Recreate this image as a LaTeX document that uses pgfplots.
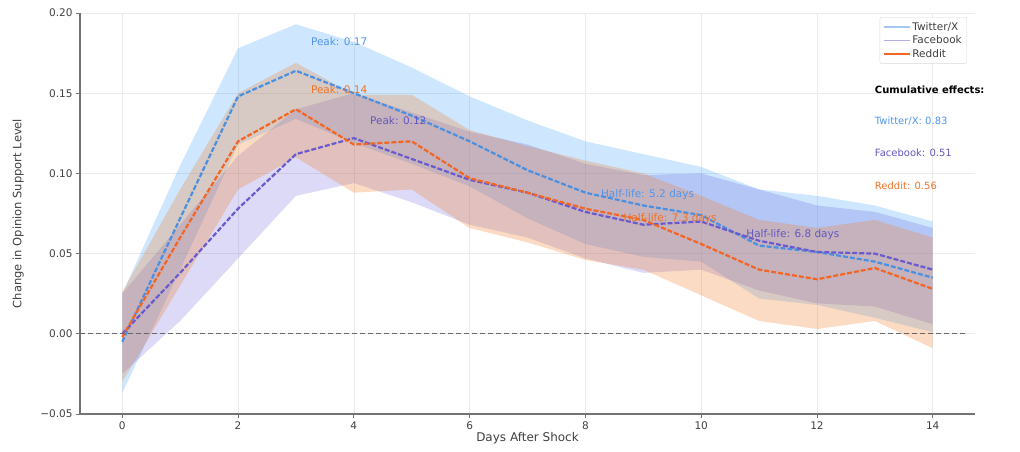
\documentclass[border=0pt]{standalone}
\usepackage{fontspec}
\setmainfont{DejaVu Sans}
\usepackage{pgfplots}
\usepackage{pgfplotstable}
\pgfplotsset{compat=1.18}
\usepgfplotslibrary{fillbetween}
\definecolor{tw}{RGB}{74,144,226}
\definecolor{fb}{RGB}{106,90,205}
\definecolor{rd}{RGB}{242,101,34}
\definecolor{twf}{RGB}{30,144,255}
\definecolor{fbf}{RGB}{80,70,210}
\definecolor{rdf}{RGB}{240,125,40}
\definecolor{twt}{RGB}{80,150,235}
\definecolor{fbt}{RGB}{100,88,190}
\definecolor{rdt}{RGB}{240,115,40}
\pgfplotstableread{
day tm tu tl fm fu fl rm ru rl
0 -0.005 0.025 -0.037 0.000 0.025 -0.025 -0.002 0.026 -0.030
1 0.072 0.105 0.040 0.038 0.068 0.008 0.060 0.090 0.030
2 0.148 0.178 0.118 0.078 0.111 0.047 0.120 0.150 0.090
3 0.164 0.193 0.134 0.112 0.140 0.086 0.140 0.169 0.110
4 0.150 0.182 0.119 0.122 0.150 0.094 0.118 0.149 0.088
5 0.136 0.166 0.106 0.109 0.138 0.082 0.120 0.149 0.090
6 0.120 0.148 0.092 0.096 0.126 0.068 0.097 0.127 0.066
7 0.102 0.133 0.072 0.088 0.118 0.060 0.088 0.117 0.057
8 0.088 0.120 0.056 0.076 0.106 0.047 0.078 0.108 0.046
9 0.080 0.112 0.048 0.068 0.099 0.038 0.071 0.100 0.040
10 0.074 0.104 0.045 0.070 0.100 0.040 0.056 0.086 0.024
11 0.055 0.090 0.022 0.058 0.090 0.027 0.040 0.071 0.008
12 0.051 0.086 0.018 0.051 0.080 0.019 0.034 0.066 0.003
13 0.045 0.080 0.010 0.050 0.076 0.017 0.041 0.071 0.008
14 0.035 0.070 0.001 0.040 0.066 0.006 0.028 0.060 -0.009
}\data
\begin{document}
\begin{tikzpicture}
\begin{axis}[
  at={(0pt,0pt)}, anchor=south west,
  scale only axis, width=895pt, height=401pt,
  xmin=-0.73, xmax=14.73, ymin=-0.05, ymax=0.20,
  clip=false,
  axis x line*=bottom, axis y line*=left,
  axis line style={draw=black!55, line width=1.3pt, -},
  xtick={0,2,4,6,8,10,12,14},
  xticklabels={0,2,4,6,8,10,12,14},
  ytick={-0.05,0,0.05,0.1,0.15,0.2},
  yticklabels={−0.05,0.00,0.05,0.10,0.15,0.20},
  tick align=outside, major tick length=4pt,
  tick style={draw=black!55, line width=0.8pt},
  ticklabel style={font=\fontsize{10.5}{12}\selectfont, text=black!75},
  grid=major, grid style={draw=black!8, line width=0.6pt},
  xlabel={Days After Shock}, ylabel={Change in Opinion Support Level},
  xlabel style={at={(axis description cs:0.5,-0.06)}, anchor=center, font=\fontsize{12}{14}\selectfont, text=black!75},
  ylabel style={at={(axis description cs:-0.069,0.5)}, anchor=center, font=\fontsize{11.5}{14}\selectfont, text=black!75},
  legend style={at={(rel axis cs:0.991,0.99)}, anchor=north east, draw=black!15, fill=white, rounded corners=2pt, font=\fontsize{10.5}{12.5}\selectfont, text=black!75, inner sep=3pt},
  legend cell align=left,
  legend image code/.code={\draw[#1] (0pt,0pt) -- (26pt,0pt);},
]
% Twitter/X
\addplot[name path=tu, draw=none, forget plot] table[x=day,y=tu]{\data};
\addplot[name path=tl, draw=none, forget plot] table[x=day,y=tl]{\data};
\addplot[fill=twf, fill opacity=0.22, draw=none, forget plot] fill between[of=tu and tl];
\addplot[tw, line width=2.2pt, dash pattern=on 5pt off 2pt, forget plot] table[x=day,y=tm]{\data};
% Facebook
\addplot[name path=fu, draw=none, forget plot] table[x=day,y=fu]{\data};
\addplot[name path=fl, draw=none, forget plot] table[x=day,y=fl]{\data};
\addplot[fill=fbf, fill opacity=0.2, draw=none, forget plot] fill between[of=fu and fl];
\addplot[fb, line width=2.2pt, dash pattern=on 5pt off 2pt, forget plot] table[x=day,y=fm]{\data};
% Reddit
\addplot[name path=ru, draw=none, forget plot] table[x=day,y=ru]{\data};
\addplot[name path=rl, draw=none, forget plot] table[x=day,y=rl]{\data};
\addplot[fill=rdf, fill opacity=0.28, draw=none, forget plot] fill between[of=ru and rl];
\addplot[rd, line width=2.2pt, dash pattern=on 5pt off 2pt, forget plot] table[x=day,y=rm]{\data};
% zero line
\addplot[black!60, line width=0.9pt, dash pattern=on 5pt off 3pt, forget plot] coordinates {(-0.73,0) (14.6,0)};
% legend
\addlegendimage{tw!50, line width=1.5pt}\addlegendentry{Twitter/X}
\addlegendimage{fb!50, line width=1.5pt}\addlegendentry{Facebook}
\addlegendimage{rd, line width=1.5pt}\addlegendentry{Reddit}
% annotations
\node[anchor=west, text=twt, font=\fontsize{10.5}{12}\selectfont] at (axis cs:3.2,0.182) {Peak: 0.17};
\node[anchor=west, text=rdt, font=\fontsize{10.5}{12}\selectfont] at (axis cs:3.2,0.152) {Peak: 0.14};
\node[anchor=west, text=fbt, font=\fontsize{10.5}{12}\selectfont] at (axis cs:4.22,0.133) {Peak: 0.12};
\node[anchor=west, text=twt, font=\fontsize{10.5}{12}\selectfont] at (axis cs:8.21,0.087) {Half-life: 5.2 days};
\node[anchor=west, text=rdt, font=\fontsize{10.5}{12}\selectfont] at (axis cs:8.6,0.0717) {Half-life: 7.3 days};
\node[anchor=west, text=fbt, font=\fontsize{10.5}{12}\selectfont] at (axis cs:10.72,0.0617) {Half-life: 6.8 days};
% cumulative
\node[anchor=west, inner sep=0pt, font=\bfseries\fontsize{10}{12}\selectfont] at (rel axis cs:0.888,0.808) {Cumulative effects:};
\node[anchor=west, inner sep=0pt, text=twt, font=\fontsize{10}{12}\selectfont] at (rel axis cs:0.888,0.731) {Twitter/X: 0.83};
\node[anchor=west, inner sep=0pt, text=fbt, font=\fontsize{10}{12}\selectfont] at (rel axis cs:0.888,0.651) {Facebook: 0.51};
\node[anchor=west, inner sep=0pt, text=rdt, font=\fontsize{10}{12}\selectfont] at (rel axis cs:0.888,0.569) {Reddit: 0.56};
\end{axis}
\path (-80pt,-38pt) rectangle (940pt,414pt);
\end{tikzpicture}
\end{document}
